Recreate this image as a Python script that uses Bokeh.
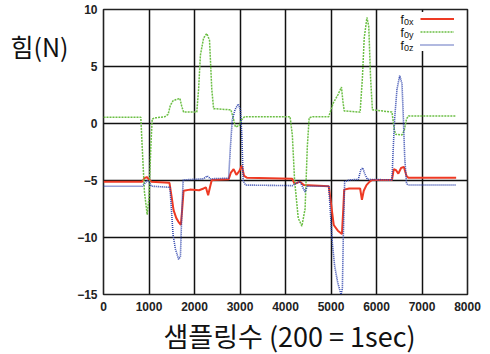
from bokeh.plotting import figure
from bokeh.models import Range1d, FixedTicker, Label, Legend, LegendItem, Title
from bokeh.embed import file_html
from bokeh.resources import INLINE

# ---- data ----
fx_x = [0, 850, 900, 950, 1000, 1050, 1450, 1500, 1540, 1600, 1660, 1700, 1730, 1760, 1900, 2100, 2200, 2250,
        2300, 2340, 2380, 2750, 2800, 2860, 2920, 2980, 3040, 3090, 3150, 4150, 4200, 4320, 4400, 4950, 5000,
        5060, 5150, 5240, 5270, 5290, 5400, 5640, 5680, 5720, 5780, 5850, 5900, 6340, 6380, 6430, 6480, 6540,
        6600, 6660, 6700, 7750]
fx_y = [-5.1, -5.1, -4.8, -4.7, -4.9, -5.1, -5.2, -6.5, -7.6, -8.3, -8.7, -8.9, -7.5, -5.9, -5.8, -5.85, -5.7, -5.6,
        -6.3, -5.6, -4.95, -4.9, -4.3, -4.0, -4.5, -4.2, -3.7, -4.6, -4.75, -4.85, -5.3, -5.1, -5.4, -5.5, -7.0,
        -8.9, -9.4, -9.7, -7.5, -5.8, -5.7, -5.7, -6.7, -5.9, -5.4, -5.1, -4.95, -4.95, -4.0, -4.1, -4.4, -3.9,
        -3.8, -4.6, -4.75, -4.75]

fy_x = [0, 820, 850, 900, 960, 1000, 1040, 1070, 1150, 1350, 1420, 1470, 1530, 1600, 1680, 1720, 1760, 2050, 2090,
        2130, 2200, 2270, 2330, 2380, 2420, 2800, 2850, 2900, 2980, 3030, 3100, 4100, 4150, 4200, 4280, 4360, 4430,
        4480, 4520, 4600, 4950, 5000, 5050, 5150, 5230, 5260, 5290, 5640, 5690, 5730, 5790, 5830, 5870, 5910, 6340,
        6390, 6420, 6560, 6610, 6660, 6700, 7750]
fy_y = [0.55, 0.55, -2.0, -6.0, -8.0, -6.5, -2.0, 0.4, 0.5, 0.6, 0.8, 1.6, 2.0, 2.1, 2.2, 1.5, 1.0, 1.0, 3.0,
        6.0, 7.5, 7.9, 7.3, 3.0, 1.3, 1.2, 0.5, -0.3, -0.2, 0.3, 0.6, 0.6, -1.0, -5.0, -8.3, -9.0, -7.5,
        -2.0, 0.5, 0.6, 0.6, 1.2, 1.8, 2.5, 3.2, 2.0, 1.1, 1.0, 4.0, 7.5, 9.3, 8.5, 4.0, 1.2, 1.0,
        -0.5, -0.95, -1.0, -0.6, 0.4, 0.65, 0.65]

fz_x = [0, 850, 900, 960, 1000, 1050, 1460, 1500, 1530, 1580, 1650, 1690, 1720, 1750, 2200, 2280, 2350, 2750, 2790,
        2830, 2890, 2960, 3010, 3040, 3070, 3120, 4150, 4250, 4320, 4380, 4430, 4480, 4950, 4990, 5030, 5080, 5150,
        5220, 5250, 5270, 5300, 5400, 5600, 5660, 5700, 5740, 5800, 6340, 6370, 6400, 6450, 6510, 6560, 6590, 6620,
        6660, 6700, 7750]
fz_y = [-5.5, -5.5, -5.3, -5.0, -5.1, -5.5, -5.6, -8.0, -9.8, -11.0, -11.9, -11.7, -8.0, -4.95, -4.85, -4.6, -4.85,
        -4.8, -2.0, 0.3, 1.2, 1.7, 1.2, -1.0, -5.0, -5.4, -5.45, -5.2, -5.1, -5.6, -6.0, -5.5, -5.5, -8.0, -10.5,
        -12.5, -14.0, -15.0, -14.5, -10.0, -5.1, -4.95, -4.9, -4.0, -3.9, -4.4, -4.9, -4.95, -2.0, 0.5, 3.0, 4.2,
        3.5, 0.5, -3.0, -5.3, -5.4, -5.4]

x_ticks = [0, 1000, 2000, 3000, 4000, 5000, 6000, 7000, 8000]
y_ticks = [-15, -10, -5, 0, 5, 10]
y_label = "힘(N)"
x_label = "샘플링수 (200 = 1sec)"

TICK_FONT = "Liberation Sans"
KR_FONT = "Noto Sans CJK KR"

p = figure(width=490, height=354, output_backend="svg", toolbar_location=None,
           x_range=Range1d(0, 8000), y_range=Range1d(-15, 10),
           min_border_left=103, min_border_right=23, min_border_top=9, min_border_bottom=20)
p.background_fill_color = "white"
p.border_fill_color = "white"
p.outline_line_color = "#222222"
p.outline_line_width = 1.6

for ax in (p.xaxis[0], p.yaxis[0]):
    ax.axis_line_color = None
    ax.major_tick_line_color = None
    ax.minor_tick_line_color = None
    ax.major_tick_in = 0
    ax.major_tick_out = 0
    ax.major_label_text_font = TICK_FONT
    ax.major_label_text_font_style = "bold"
    ax.major_label_text_font_size = "12px"
    ax.major_label_text_color = "#222222"
p.xaxis.ticker = FixedTicker(ticks=x_ticks)
p.yaxis.ticker = FixedTicker(ticks=y_ticks)
p.xaxis.major_label_standoff = 7
p.yaxis.major_label_standoff = 6

p.xgrid.ticker = FixedTicker(ticks=x_ticks)
p.ygrid.ticker = FixedTicker(ticks=y_ticks)
for g in (p.xgrid[0], p.ygrid[0]):
    g.grid_line_color = "#111111"
    g.grid_line_width = 1.5
    g.grid_line_alpha = 1.0

r_x = p.line(fx_x, fx_y, line_color="#ee3a24", line_width=2.0)
r_y = p.line(fy_x, fy_y, line_color="#6cbf45", line_width=1.5, line_dash="2 1")
r_z = p.line(fz_x, fz_y, line_color="#3045ad", line_width=1.6, line_dash="1 1")

legend = Legend(items=[LegendItem(label=" ", renderers=[r_x]),
                       LegendItem(label=" ", renderers=[r_y]),
                       LegendItem(label=" ", renderers=[r_z])],
                location=(317, 243), padding=0, spacing=0, margin=0,
                glyph_width=34, glyph_height=13, label_height=13, label_width=0,
                label_standoff=0, label_text_font_size="1px",
                background_fill_color="white", background_fill_alpha=1.0,
                border_line_color=None)
p.add_layout(legend, "center")

# legend texts f_{0x}, f_{0y}, f_{0z}
for i, sub in enumerate(["0x", "0y", "0z"]):
    p.add_layout(Label(x=297, y=275 - 13 * i, x_units="screen", y_units="screen", text="f",
                       text_font=TICK_FONT, text_font_size="12px", text_color="#111111",
                       text_baseline="alphabetic", text_align="left"))
    p.add_layout(Label(x=300.5, y=273 - 13 * i, x_units="screen", y_units="screen", text=sub,
                       text_font=TICK_FONT, text_font_size="9px", text_color="#111111",
                       text_baseline="alphabetic", text_align="left"))

# y label (horizontal, left of the plot) placed in the left side panel
p.add_layout(Label(x=-6, y=249, x_units="screen", y_units="screen", text=y_label,
                   text_font=KR_FONT, text_font_size="25px", text_color="#111111",
                   text_baseline="middle", text_align="left"), "left")

# x label below the plot
xt = Title(text=x_label, align="left", offset=60, standoff=0, text_line_height=0.85,
           text_font=KR_FONT, text_font_size="27px", text_font_style="normal",
           text_color="#111111")
p.add_layout(xt, "below")

open("out.html", "w").write(file_html(p, INLINE))
